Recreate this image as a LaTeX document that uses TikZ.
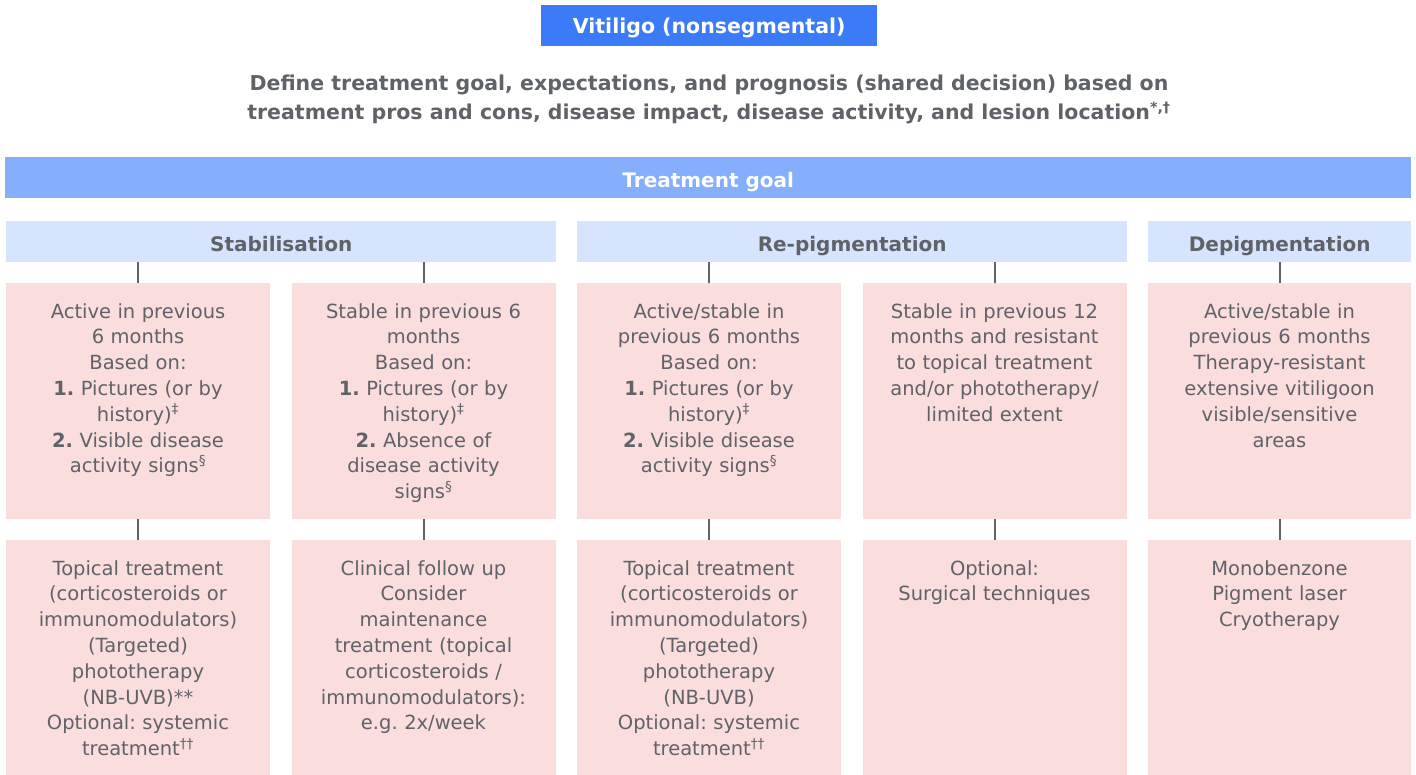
\documentclass[tikz,border=0pt]{standalone}
\usepackage{fontspec}
\setmainfont{DejaVu Sans}
\frenchspacing
\usetikzlibrary{calc, positioning}

\definecolor{titleblue}{HTML}{3B7BF7}
\definecolor{goalblue}{HTML}{85AEFD}
\definecolor{catblue}{HTML}{D6E4FD}
\definecolor{cellpink}{HTML}{FADDDD}
\definecolor{txtgray}{HTML}{5F6368}

\begin{document}
\begin{tikzpicture}[x=1pt, y=-1pt,
    bar/.style={anchor=north west, inner sep=0pt, minimum height=41pt, text=white,
        text height=19pt, text depth=0pt, font=\bfseries\fontsize{20}{25}\selectfont},
    catbar/.style={bar, fill=catblue, text=txtgray},
    cell/.style={anchor=north, fill=cellpink, inner sep=0pt, minimum width=264pt, minimum height=236pt},
    celltext/.style={anchor=north, inner sep=0pt, align=center, text width=262pt, text=txtgray,
        font=\fontsize{19.5}{25.8}\selectfont},
    conn/.style={draw=txtgray, line width=2pt}]
    \useasboundingbox (0,0) rectangle (1416,775);

    \node[bar, fill=titleblue, minimum width=336pt, text height=16pt, font=\bfseries\fontsize{20.5}{25}\selectfont] (title) at (541,5)
        {Vitiligo (nonsegmental)};
    \node[align=center, text=txtgray, inner sep=0pt, font=\bfseries\fontsize{20.5}{29}\selectfont] (define) at (709,99.5)
        {Define treatment goal, expectations, and prognosis (shared decision) based on\\
         treatment pros and cons, disease impact, disease activity, and lesion location\textsuperscript{*,†}};

    \node[bar, fill=goalblue, minimum width=1406pt] (goal) at (5,157) {Treatment goal};

    \node[catbar, minimum width=550pt] (stab) at (6,221) {Stabilisation};
    \node[catbar, minimum width=550pt] (repig) at (577,221) {Re-pigmentation};
    \node[catbar, minimum width=263pt] (depig) at (1148,221) {Depigmentation};

    % upper row: disease activity
    \node[cell] (a1) at (138,283) {};
    \node[cell] (a2) at (423.5,283) {};
    \node[cell] (a3) at (709,283) {};
    \node[cell] (a4) at (994.5,283) {};
    \node[cell, minimum width=263pt] (a5) at (1279.5,283) {};

    \node[celltext] (a1t) at ($(a1.north)+(0,20)$) {Active in previous\\6 months\\Based on:\\
        \textbf{1.} Pictures (or by\\history)\textsuperscript{‡}\\\textbf{2.} Visible disease\\activity signs\textsuperscript{§}};
    \node[celltext] (a2t) at ($(a2.north)+(0,20)$) {Stable in previous 6\\months\\Based on:\\
        \textbf{1.} Pictures (or by\\history)\textsuperscript{‡}\\\textbf{2.} Absence of\\disease activity\\signs\textsuperscript{§}};
    \node[celltext] (a3t) at ($(a3.north)+(0,20)$) {Active/stable in\\previous 6 months\\Based on:\\
        \textbf{1.} Pictures (or by\\history)\textsuperscript{‡}\\\textbf{2.} Visible disease\\activity signs\textsuperscript{§}};
    \node[celltext] (a4t) at ($(a4.north)+(0,20)$) {Stable in previous 12\\months and resistant\\to topical treatment\\
        and/or phototherapy/\\limited extent};
    \node[celltext] (a5t) at ($(a5.north)+(0,20)$) {Active/stable in\\previous 6 months\\Therapy-resistant\\
        extensive vitiligoon\\visible/sensitive\\areas};

    % lower row: treatment
    \node[cell, minimum height=235pt] (b1) at (138,540) {};
    \node[cell, minimum height=235pt] (b2) at (423.5,540) {};
    \node[cell, minimum height=235pt] (b3) at (709,540) {};
    \node[cell, minimum height=235pt] (b4) at (994.5,540) {};
    \node[cell, minimum height=235pt, minimum width=263pt] (b5) at (1279.5,540) {};

    \node[celltext] (b1t) at ($(b1.north)+(0,20)$) {Topical treatment\\(corticosteroids or\\immunomodulators)\\
        (Targeted)\\phototherapy\\(NB-UVB)**\\Optional: systemic\\treatment\textsuperscript{††}};
    \node[celltext] (b2t) at ($(b2.north)+(0,20)$) {Clinical follow up\\Consider\\maintenance\\
        treatment (topical\\corticosteroids /\\immunomodulators):\\e.g. 2x/week};
    \node[celltext] (b3t) at ($(b3.north)+(0,20)$) {Topical treatment\\(corticosteroids or\\immunomodulators)\\
        (Targeted)\\phototherapy\\(NB-UVB)\\Optional: systemic\\treatment\textsuperscript{††}};
    \node[celltext] (b4t) at ($(b4.north)+(0,20)$) {Optional:\\Surgical techniques};
    \node[celltext] (b5t) at ($(b5.north)+(0,20)$) {Monobenzone\\Pigment laser\\Cryotherapy};

    \draw[conn] (a1.north |- stab.south) -- (a1.north);
    \draw[conn] (a2.north |- stab.south) -- (a2.north);
    \draw[conn] (a3.north |- repig.south) -- (a3.north);
    \draw[conn] (a4.north |- repig.south) -- (a4.north);
    \draw[conn] (a5.north |- depig.south) -- (a5.north);
    \foreach \i in {1,...,5}
        \draw[conn] (a\i.south) -- (b\i.north);
\end{tikzpicture}
\end{document}
